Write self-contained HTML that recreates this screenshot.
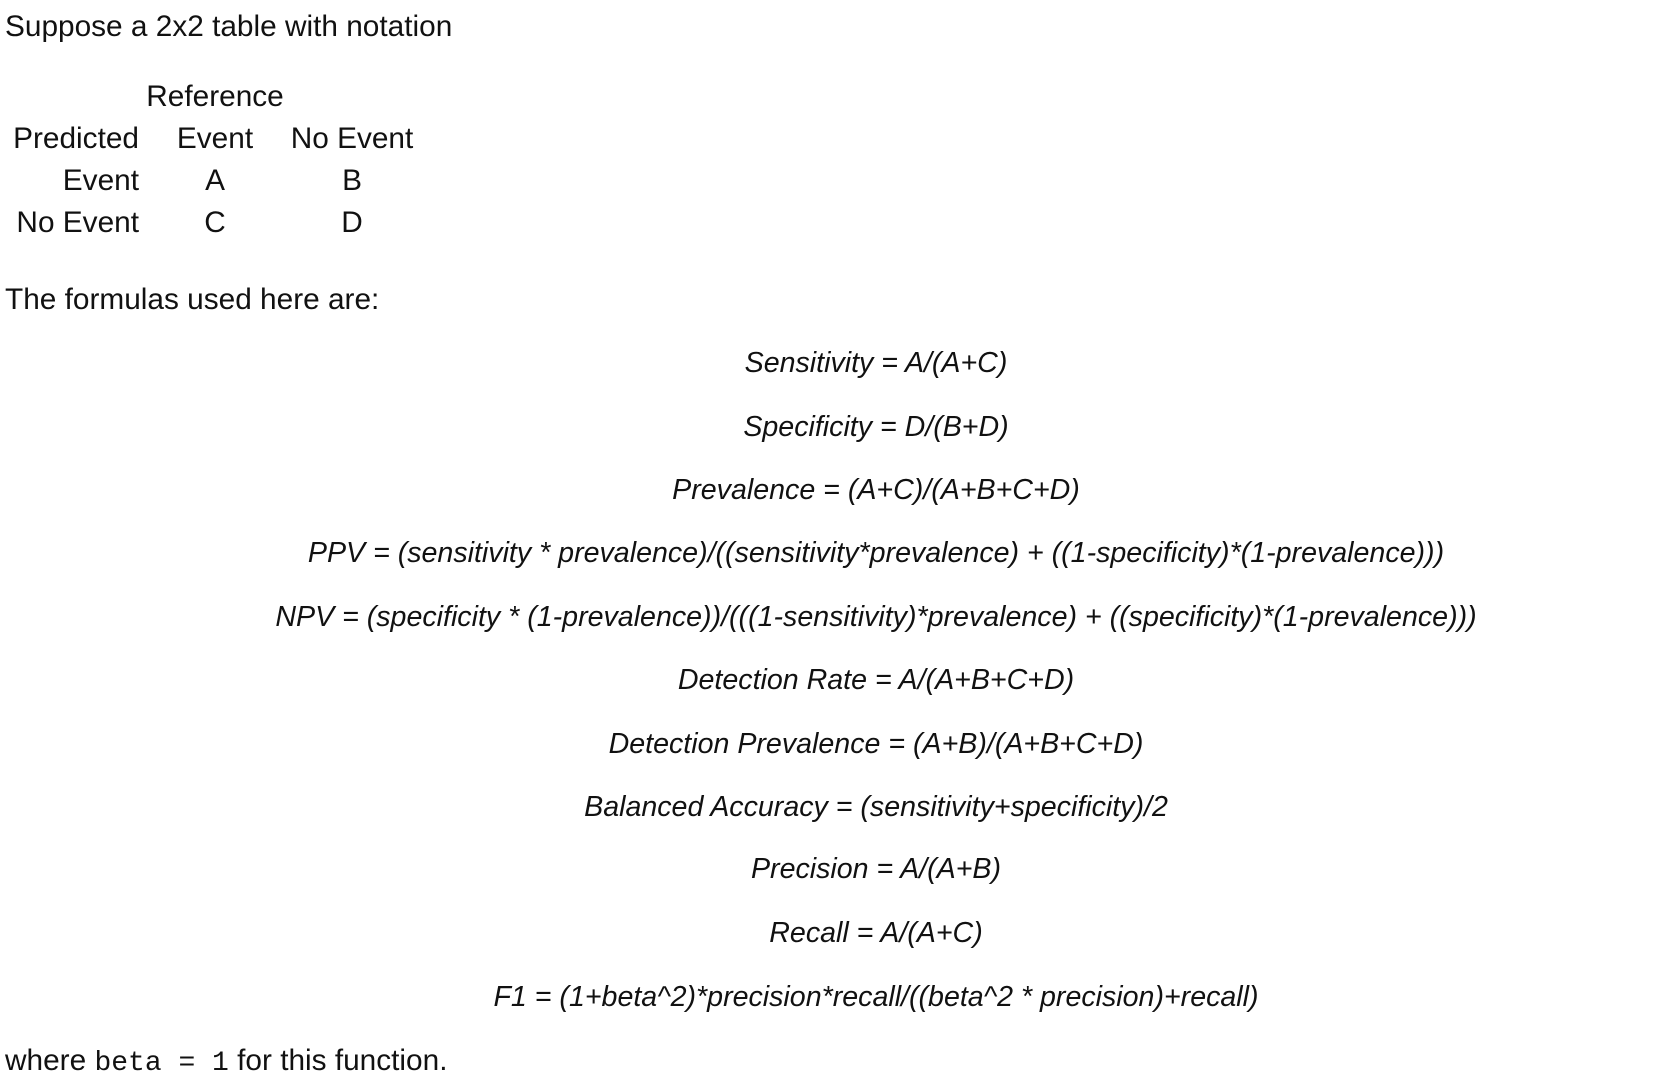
<!DOCTYPE html>
<html><head><meta charset="utf-8"><style>
body{margin:0;width:1654px;height:1088px;background:#fff;font-family:"Liberation Sans",sans-serif;font-size:29.8px;color:#111;position:relative;overflow:hidden}
.t{position:absolute;line-height:32px;white-space:nowrap}
.c{transform:translateX(-50%)}
.r{transform:translateX(-100%)}
.f{position:absolute;left:876px;transform:translateX(-50%);font-style:italic;font-size:28.6px;line-height:32px;white-space:nowrap}
code{font-family:"Liberation Mono",monospace;font-size:28px}
</style></head><body>
<div class="t" style="left:5px;top:11px">Suppose a 2x2 table with notation</div>
<div class="t c" style="left:215px;top:81px">Reference</div>
<div class="t r" style="left:139px;top:123px">Predicted</div>
<div class="t c" style="left:215px;top:123px">Event</div>
<div class="t c" style="left:352px;top:123px">No Event</div>
<div class="t r" style="left:139px;top:165px">Event</div>
<div class="t c" style="left:215px;top:165px">A</div>
<div class="t c" style="left:352px;top:165px">B</div>
<div class="t r" style="left:139px;top:207px">No Event</div>
<div class="t c" style="left:215px;top:207px">C</div>
<div class="t c" style="left:352px;top:207px">D</div>
<div class="t" style="left:5px;top:284px">The formulas used here are:</div>
<div class="f" style="top:347px">Sensitivity = A/(A+C)</div>
<div class="f" style="top:411px">Specificity = D/(B+D)</div>
<div class="f" style="top:474px">Prevalence = (A+C)/(A+B+C+D)</div>
<div class="f" style="top:537px">PPV = (sensitivity * prevalence)/((sensitivity*prevalence) + ((1-specificity)*(1-prevalence)))</div>
<div class="f" style="top:601px">NPV = (specificity * (1-prevalence))/(((1-sensitivity)*prevalence) + ((specificity)*(1-prevalence)))</div>
<div class="f" style="top:664px">Detection Rate = A/(A+B+C+D)</div>
<div class="f" style="top:728px">Detection Prevalence = (A+B)/(A+B+C+D)</div>
<div class="f" style="top:791px">Balanced Accuracy = (sensitivity+specificity)/2</div>
<div class="f" style="top:853px">Precision = A/(A+B)</div>
<div class="f" style="top:917px">Recall = A/(A+C)</div>
<div class="f" style="top:981px">F1 = (1+beta^2)*precision*recall/((beta^2 * precision)+recall)</div>
<div class="t" style="left:5px;top:1045px">where <code>beta = 1</code> for this function.</div>
</body></html>
